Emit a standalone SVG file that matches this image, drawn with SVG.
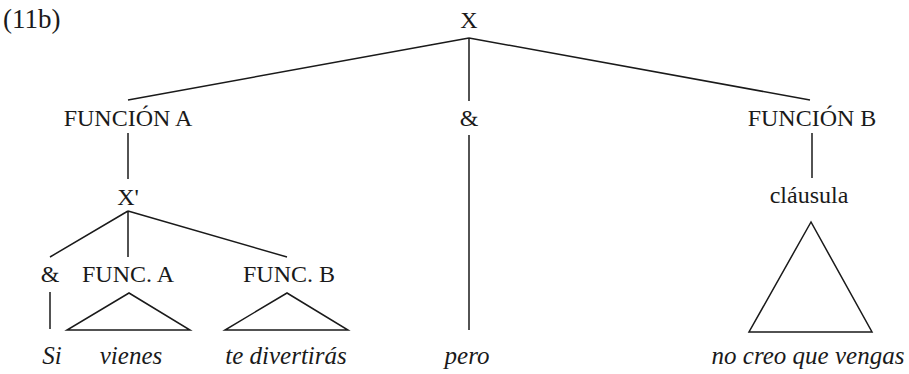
<svg xmlns="http://www.w3.org/2000/svg" width="909" height="374" viewBox="0 0 909 374">
<style>
.t{font-size:24px;fill:#1a1a1a;text-anchor:middle}
.i{font-size:25px;font-style:italic;fill:#1a1a1a;text-anchor:middle}
.e{stroke:#1a1a1a;stroke-width:1.5;fill:none}
</style>
<rect width="909" height="374" fill="#ffffff"/>
<g font-family="Liberation Serif, DejaVu Serif, serif">
<text x="3" y="28" class="t" style="text-anchor:start;font-size:27px">(11b)</text>
<g id="connectors" class="e">
<path d="M469,38 L128,100 M469,38 L469,101 M469,38 L810,100"/>
<path d="M128,133 L128,179"/>
<path d="M128,211 L50,257 M128,211 L128,257 M128,211 L287,257"/>
<path d="M50,292 L50,329"/>
<path d="M469,135 L469,330"/>
<path d="M812,133 L812,178"/>
</g>
<g id="X"><text x="469" y="28" class="t">X</text></g>
<g id="funcionA"><text x="128" y="126" class="t">FUNCIÓN A</text></g>
<g id="amp1"><text x="469" y="126" class="t">&amp;</text></g>
<g id="funcionB"><text x="812" y="126" class="t">FUNCIÓN B</text></g>
<g id="Xbar"><text x="128" y="205" class="t">X'</text></g>
<g id="clausula"><text x="809" y="203" class="t">cláusula</text></g>
<g id="amp2"><text x="50" y="282" class="t">&amp;</text></g>
<g id="funcA"><text x="128" y="282" class="t">FUNC. A</text></g>
<g id="funcB"><text x="289" y="282" class="t">FUNC. B</text></g>
<g id="triA"><path class="e" d="M129,293 L67,330 L190,330 Z"/></g>
<g id="triB"><path class="e" d="M287,293 L225,330 L348,330 Z"/></g>
<g id="triC"><path class="e" d="M811,222 L749,332 L872,332 Z"/></g>
<g id="si"><text x="52" y="364" class="i">Si</text></g>
<g id="vienes"><text x="131" y="364" class="i">vienes</text></g>
<g id="tedivertiras"><text x="286" y="364" class="i">te divertirás</text></g>
<g id="pero"><text x="467" y="364" class="i">pero</text></g>
<g id="nocreo"><text x="808" y="364" class="i">no creo que vengas</text></g>
</g>
</svg>
